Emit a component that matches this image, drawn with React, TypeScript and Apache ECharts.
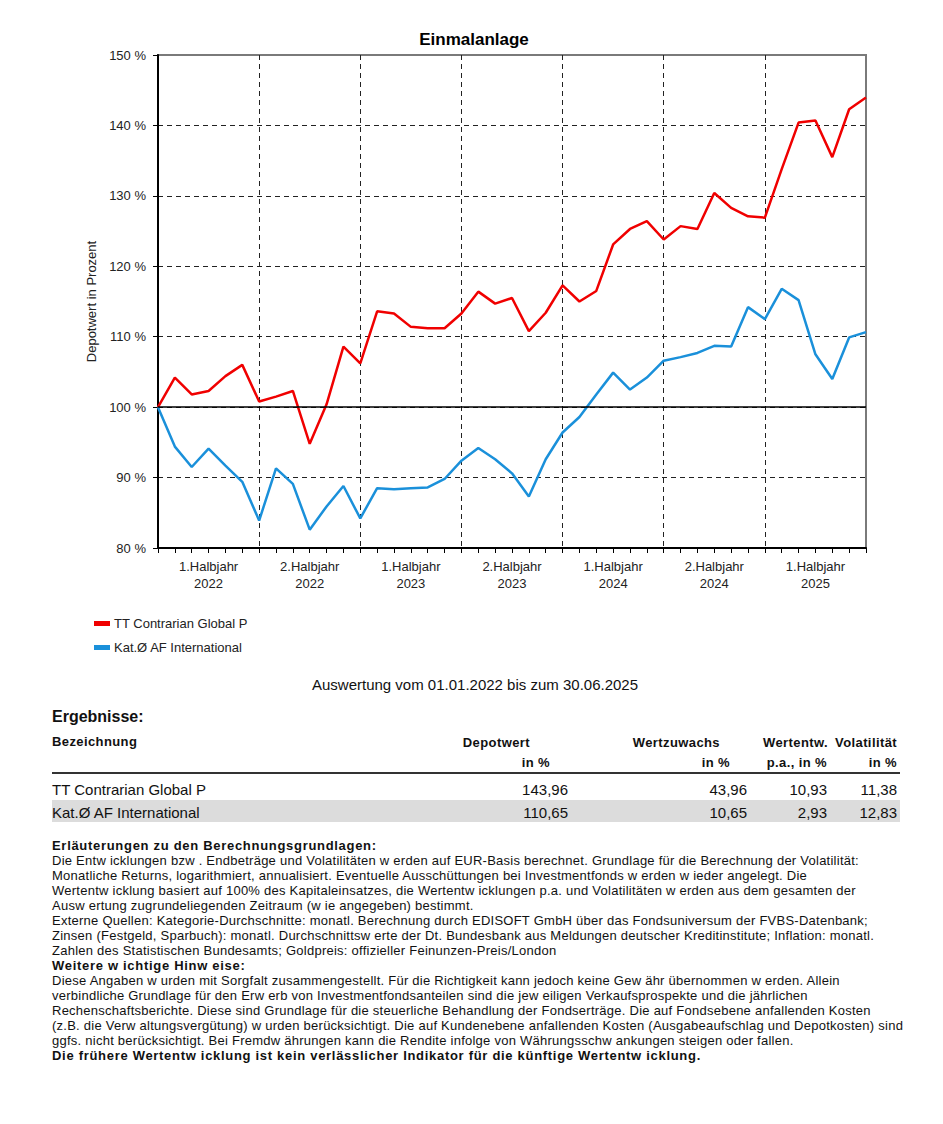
import React, { useEffect, useRef } from "react";
import * as echarts from "echarts";

const months = [
  "01.01.2022", "31.01.2022", "28.02.2022", "31.03.2022", "30.04.2022", "31.05.2022", "30.06.2022",
  "31.07.2022", "31.08.2022", "30.09.2022", "31.10.2022", "30.11.2022", "31.12.2022",
  "31.01.2023", "28.02.2023", "31.03.2023", "30.04.2023", "31.05.2023", "30.06.2023",
  "31.07.2023", "31.08.2023", "30.09.2023", "31.10.2023", "30.11.2023", "31.12.2023",
  "31.01.2024", "29.02.2024", "31.03.2024", "30.04.2024", "31.05.2024", "30.06.2024",
  "31.07.2024", "31.08.2024", "30.09.2024", "31.10.2024", "30.11.2024", "31.12.2024",
  "31.01.2025", "28.02.2025", "31.03.2025", "30.04.2025", "31.05.2025", "30.06.2025",
];

const halfYearLabels = [
  "1.Halbjahr\n2022", "2.Halbjahr\n2022", "1.Halbjahr\n2023", "2.Halbjahr\n2023",
  "1.Halbjahr\n2024", "2.Halbjahr\n2024", "1.Halbjahr\n2025",
];

const seriesNames = ["TT Contrarian Global P", "Kat.Ø AF International"];

const fundValues = [
  100, 104.2, 101.8, 102.3, 104.4, 106.0, 100.8, 101.5, 102.3, 94.8, 100.4, 108.6, 106.2,
  113.6, 113.3, 111.4, 111.2, 111.2, 113.3, 116.4, 114.7, 115.5, 110.8, 113.4, 117.3,
  115.0, 116.5, 123.1, 125.3, 126.4, 123.8, 125.7, 125.3, 130.4, 128.3, 127.1, 126.9,
  133.8, 140.4, 140.7, 135.5, 142.3, 143.96,
];

const categoryValues = [
  100, 94.4, 91.5, 94.1, 91.7, 89.4, 83.9, 91.3, 89.1, 82.6, 85.9, 88.8, 84.2,
  88.5, 88.35, 88.5, 88.6, 89.8, 92.4, 94.2, 92.6, 90.6, 87.3, 92.6, 96.4,
  98.6, 101.8, 104.9, 102.5, 104.2, 106.6, 107.1, 107.7, 108.7, 108.6, 114.2, 112.5,
  116.8, 115.2, 107.5, 104.0, 109.9, 110.65,
];

const tableHeaders = [
  { top: "Depotwert", bottom: "in %", topRight: 530, bottomRight: 550, valueRight: 568 },
  { top: "Wertzuwachs", bottom: "in %", topRight: 720, bottomRight: 730, valueRight: 747 },
  { top: "Wertentw.", bottom: "p.a., in %", topRight: 828, bottomRight: 827, valueRight: 827 },
  { top: "Volatilität", bottom: "in %", topRight: 897, bottomRight: 897, valueRight: 897 },
];

const tableRows = [
  { name: "TT Contrarian Global P", values: ["143,96", "43,96", "10,93", "11,38"] },
  { name: "Kat.Ø AF International", values: ["110,65", "10,65", "2,93", "12,83"] },
];

const noteLines: [string, boolean][] = [
  ["Erläuterungen zu den Berechnungsgrundlagen:", true],
  ["Die Entw icklungen bzw . Endbeträge und Volatilitäten w erden auf EUR-Basis berechnet. Grundlage für die Berechnung der Volatilität:", false],
  ["Monatliche Returns, logarithmiert, annualisiert. Eventuelle Ausschüttungen bei Investmentfonds w erden w ieder angelegt. Die", false],
  ["Wertentw icklung basiert auf 100% des Kapitaleinsatzes, die Wertentw icklungen p.a. und Volatilitäten w erden aus dem gesamten der", false],
  ["Ausw ertung zugrundeliegenden Zeitraum (w ie angegeben) bestimmt.", false],
  ["Externe Quellen: Kategorie-Durchschnitte: monatl. Berechnung durch EDISOFT GmbH über das Fondsuniversum der FVBS-Datenbank;", false],
  ["Zinsen (Festgeld, Sparbuch): monatl. Durchschnittsw erte der Dt. Bundesbank aus Meldungen deutscher Kreditinstitute; Inflation: monatl.", false],
  ["Zahlen des Statistischen Bundesamts; Goldpreis: offizieller Feinunzen-Preis/London", false],
  ["Weitere w ichtige Hinw eise:", true],
  ["Diese Angaben w urden mit Sorgfalt zusammengestellt. Für die Richtigkeit kann jedoch keine Gew ähr übernommen w erden. Allein", false],
  ["verbindliche Grundlage für den Erw erb von Investmentfondsanteilen sind die jew eiligen Verkaufsprospekte und die jährlichen", false],
  ["Rechenschaftsberichte. Diese sind Grundlage für die steuerliche Behandlung der Fondserträge. Die auf Fondsebene anfallenden Kosten", false],
  ["(z.B. die Verw altungsvergütung) w urden berücksichtigt. Die auf Kundenebene anfallenden Kosten (Ausgabeaufschlag und Depotkosten) sind", false],
  ["ggfs. nicht berücksichtigt. Bei Fremdw ährungen kann die Rendite infolge von Währungsschw ankungen steigen oder fallen.", false],
  ["Die frühere Wertentw icklung ist kein verlässlicher Indikator für die künftige Wertentw icklung.", true],
];

const FONT = "'Liberation Sans', Arial, Helvetica, sans-serif";
const RED = "#f00000";
const BLUE = "#1a90da";

function Chart() {
  const ref = useRef<HTMLDivElement>(null);
  useEffect(() => {
    if (!ref.current) return;
    const chart = echarts.init(ref.current, null, { renderer: "svg" });
    const dashed = { color: "#222", width: 1, type: [5, 4] as number[] };
    chart.setOption({
      animation: false,
      textStyle: { fontFamily: FONT },
      grid: {
        left: 158, top: 55, width: 708, height: 493,
        show: true, borderColor: "#7a7a7a", borderWidth: 2, backgroundColor: "#fff",
      },
      graphic: [
        {
          type: "text", x: 474, y: 39,
          style: {
            text: "Einmalanlage", fill: "#000", font: `bold 17px ${FONT}`,
            textAlign: "center", textVerticalAlign: "middle",
          },
        },
      ],
      legend: {
        orient: "vertical", left: 94, top: 617, padding: 0, icon: "rect",
        itemWidth: 16, itemHeight: 5, itemGap: 11,
        textStyle: { fontSize: 13, color: "#222", fontFamily: FONT, padding: [0, 0, 0, -1] },
        data: seriesNames,
      },
      xAxis: {
        type: "category", data: months, boundaryGap: false,
        axisLine: { lineStyle: { color: "#000", width: 2 } },
        axisTick: { show: true, interval: 0, length: 5, lineStyle: { color: "#000", width: 1 } },
        axisLabel: {
          interval: (i: number) => i % 6 === 3,
          formatter: (_v: string, i: number) => (i % 6 === 3 ? halfYearLabels[(i - 3) / 6] : ""),
          fontSize: 13, color: "#222", lineHeight: 17, margin: 10, fontFamily: FONT,
        },
        splitLine: {
          show: true,
          interval: (i: number) => i % 6 === 0 && i !== 0 && i !== months.length - 1,
          lineStyle: dashed,
        },
      },
      yAxis: {
        type: "value", min: 80, max: 150, interval: 10,
        name: "Depotwert in Prozent", nameLocation: "middle", nameGap: 60, nameRotate: 90,
        nameTextStyle: { fontSize: 13, color: "#222", fontFamily: FONT },
        axisLine: { show: true, lineStyle: { color: "#000", width: 2 } },
        axisTick: { show: true, length: 5, lineStyle: { color: "#000", width: 1 } },
        axisLabel: { formatter: "{value} %", fontSize: 13, color: "#222", margin: 12, fontFamily: FONT },
        splitLine: { show: true, showMinLine: false, showMaxLine: false, lineStyle: dashed },
      },
      series: [
        {
          name: seriesNames[0], type: "line", data: fundValues, symbol: "none",
          lineStyle: { color: RED, width: 2.5 }, itemStyle: { color: RED }, z: 3,
          markLine: {
            silent: true, symbol: "none", label: { show: false },
            lineStyle: { color: "#000", type: "solid", width: 1.5 },
            data: [{ yAxis: 100 }],
          },
        },
        {
          name: seriesNames[1], type: "line", data: categoryValues, symbol: "none",
          lineStyle: { color: BLUE, width: 2.5 }, itemStyle: { color: BLUE }, z: 3,
        },
      ],
    });
    return () => chart.dispose();
  }, []);
  return <div ref={ref} style={{ position: "absolute", left: 0, top: 0, width: 943, height: 670 }} />;
}

function Abs(props: { left?: number; right?: number; center: number; size: number; bold?: boolean; ls?: number; children: React.ReactNode }) {
  const lh = Math.round(props.size * 1.3);
  const style: React.CSSProperties = {
    position: "absolute",
    top: props.center - lh / 2,
    lineHeight: `${lh}px`,
    fontSize: props.size,
    fontWeight: props.bold ? "bold" : "normal",
    letterSpacing: props.ls ? `${props.ls}px` : undefined,
    whiteSpace: "nowrap",
    color: "#111",
  };
  if (props.left !== undefined) style.left = props.left;
  if (props.right !== undefined) { style.right = 943 - props.right; style.textAlign = "right"; }
  return <div style={style}>{props.children}</div>;
}

export default function App() {
  return (
    <div style={{ position: "absolute", left: 0, top: 0, width: 943, height: 1124, background: "#fff", fontFamily: FONT, overflow: "hidden" }}>
      <Chart />
      <div style={{ position: "absolute", left: 0, width: 950, top: 675, lineHeight: "20px", fontSize: 15, textAlign: "center", color: "#111" }}>
        Auswertung vom 01.01.2022 bis zum 30.06.2025
      </div>
      <Abs left={52} center={716} size={16} bold>Ergebnisse:</Abs>
      <Abs left={52} center={741} size={13} bold ls={0.4}>Bezeichnung</Abs>
      {tableHeaders.map((h, i) => (
        <React.Fragment key={i}>
          <Abs right={h.topRight} center={742} size={13} bold ls={0.4}>{h.top}</Abs>
          <Abs right={h.bottomRight} center={762} size={13} bold ls={0.4}>{h.bottom}</Abs>
        </React.Fragment>
      ))}
      <div style={{ position: "absolute", left: 52, top: 772, width: 848, height: 2, background: "#333" }} />
      <div style={{ position: "absolute", left: 52, top: 800, width: 848, height: 22, background: "#dcdcdc" }} />
      {tableRows.map((r, ri) => (
        <React.Fragment key={ri}>
          <Abs left={52} center={790 + ri * 23} size={15}>{r.name}</Abs>
          {r.values.map((v, ci) => (
            <Abs key={ci} right={tableHeaders[ci].valueRight} center={790 + ri * 23} size={15}>{v}</Abs>
          ))}
        </React.Fragment>
      ))}
      {noteLines.map(([t, b], i) => (
        <Abs key={i} left={52} center={845 + i * 15} size={13} bold={b} ls={b ? 0.7 : 0.25}>{t}</Abs>
      ))}
    </div>
  );
}
